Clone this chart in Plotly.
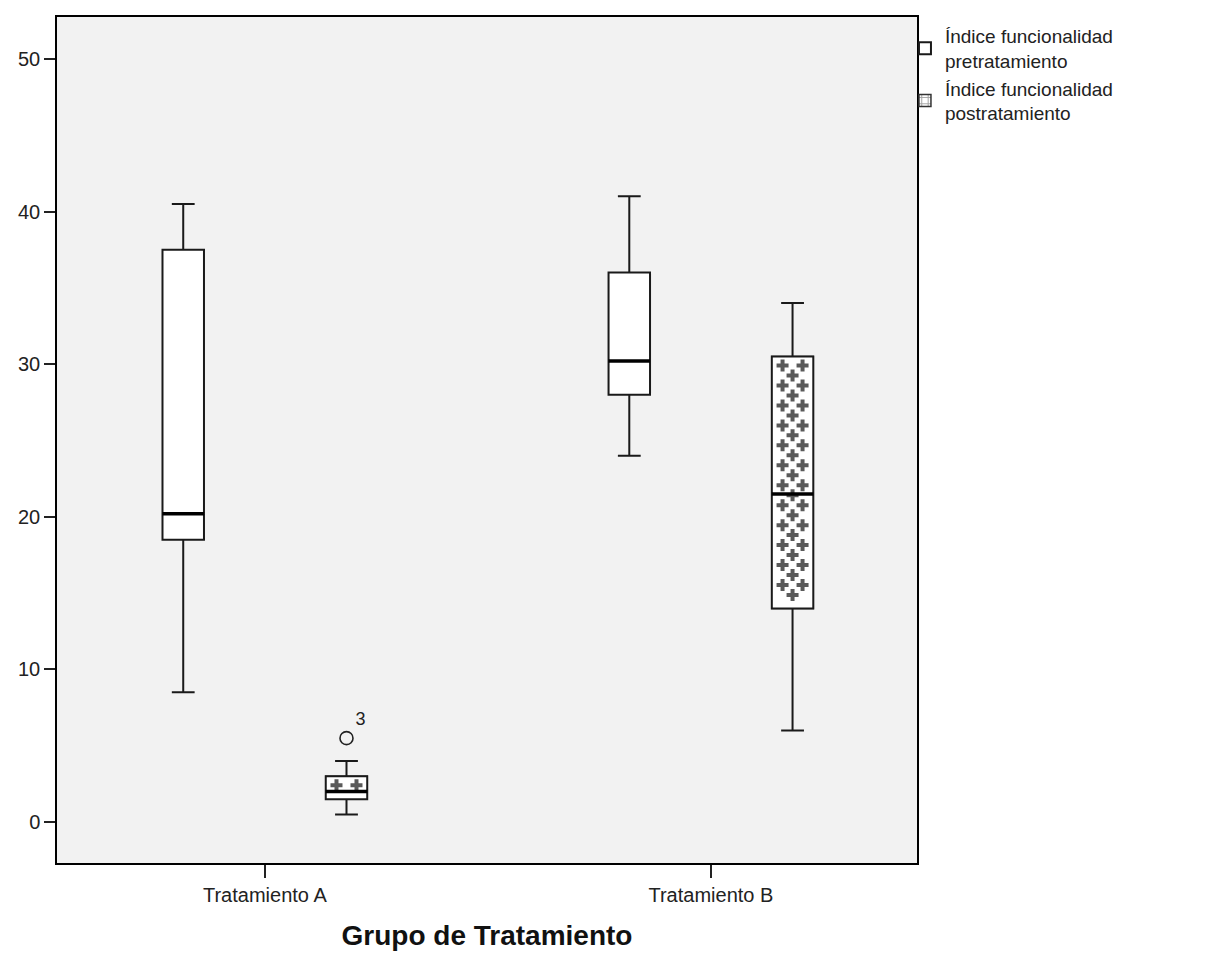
import plotly.graph_objects as go

groups = ["Tratamiento A", "Tratamiento B"]
series_names = ["Índice funcionalidad<br>pretratamiento", "Índice funcionalidad<br>postratamiento"]

pre_low = [8.5, 24.0]
pre_q1 = [18.5, 28.0]
pre_med = [20.2, 30.2]
pre_q3 = [37.5, 36.0]
pre_high = [40.5, 41.0]

post_low = [0.5, 6.0]
post_q1 = [1.5, 14.0]
post_med = [2.0, 21.5]
post_q3 = [3.0, 30.5]
post_high = [4.0, 34.0]

outlier_group = [0]
outlier_value = [5.5]
outlier_label = ["3"]

# ---- layout geometry (page body has an 8px margin) ----
W, H = 1214, 968
ML, MT, PW, PH = 49, 7, 860, 848
XR = [-0.466, 1.462]
YR = [-2.68, 52.745]
px_x = (XR[1] - XR[0]) / PW   # data units per pixel
px_y = (YR[1] - YR[0]) / PH

offset = 0.183
bw = 0.093
gx = list(range(len(groups)))
pre_x = [g - offset for g in gx]
post_x = [g + offset for g in gx]

fig = go.Figure()

# legend swatch + base for post-treatment boxes (bar layer sits beneath box layer)
fig.add_trace(go.Bar(
    x=post_x, y=[q3 - q1 for q1, q3 in zip(post_q1, post_q3)], base=post_q1,
    width=bw, name=series_names[1], showlegend=True,
    marker=dict(color="white", line=dict(color="#333", width=1.5),
                pattern=dict(shape="+", fgcolor="#444", bgcolor="white", size=8, solidity=0.3)),
    hoverinfo="skip", legendrank=2,
))

fig.add_trace(go.Box(
    x=pre_x, q1=pre_q1, median=pre_med, q3=pre_q3,
    lowerfence=pre_low, upperfence=pre_high,
    width=bw, whiskerwidth=0.55, name=series_names[0], showlegend=True,
    fillcolor="white", line=dict(color="#1a1a1a", width=2), boxpoints=False,
    legendrank=1,
))
fig.add_trace(go.Box(
    x=post_x, q1=post_q1, median=post_med, q3=post_q3,
    lowerfence=post_low, upperfence=post_high,
    width=bw, whiskerwidth=0.55, name=series_names[1], showlegend=False,
    fillcolor="white", line=dict(color="#1a1a1a", width=2), boxpoints=False,
))

# plus-sign fill pattern inside the post-treatment boxes
sx, sy = [], []
for x, q1, q3 in zip(post_x, post_q1, post_q3):
    row = 0
    yv = q3 - 9 * px_y
    while yv > q1 + 4 * px_y:
        cols = [-10, 10] if row % 2 == 0 else [0]
        for c in cols:
            sx.append(x + c * px_x)
            sy.append(yv)
        row += 1
        yv -= 10 * px_y
fig.add_trace(go.Scatter(
    x=sx, y=sy, mode="markers",
    marker=dict(symbol="cross", size=10, color="#5a5a5a", line=dict(width=0)),
    showlegend=False, hoverinfo="skip",
))

# thick median lines
mx, my = [], []
for xs, meds in ((pre_x, pre_med), (post_x, post_med)):
    for x, m in zip(xs, meds):
        mx += [x - bw / 2, x + bw / 2, None]
        my += [m, m, None]
fig.add_trace(go.Scatter(x=mx, y=my, mode="lines", line=dict(color="black", width=3.5),
                         showlegend=False, hoverinfo="skip"))

fig.add_trace(go.Scatter(
    x=[post_x[g] for g in outlier_group], y=outlier_value, mode="markers+text",
    text=outlier_label, textposition="top right",
    textfont=dict(family="Liberation Sans, Arial", size=18, color="#222"),
    marker=dict(symbol="circle-open", size=13, color="#222", line=dict(width=1.6)),
    showlegend=False, hoverinfo="skip",
))

fig.update_layout(
    width=W, height=H,
    paper_bgcolor="white", plot_bgcolor="#f2f2f2",
    margin=dict(l=ML, r=W - ML - PW, t=MT, b=H - MT - PH, pad=0),
    font=dict(family="Liberation Sans, Arial", size=20, color="#222"),
    showlegend=True,
    legend=dict(x=0.986, xanchor="left", y=1.0, yanchor="top", bgcolor="rgba(0,0,0,0)",
                font=dict(size=19), tracegroupgap=0, itemwidth=30),
    barmode="overlay",
)
fig.update_xaxes(
    range=XR, tickvals=gx, ticktext=groups,
    showline=True, linecolor="black", linewidth=1.5, mirror=True,
    ticks="outside", ticklen=13, tickcolor="#222", tickwidth=1.5,
    showgrid=False, zeroline=False, tickfont=dict(size=20),
    title=dict(text="<b>Grupo de Tratamiento</b>", font=dict(size=28, color="#111"), standoff=21),
)
fig.update_yaxes(
    range=YR, tickvals=[0, 10, 20, 30, 40, 50],
    showline=True, linecolor="black", linewidth=1.5, mirror=True,
    ticks="outside", ticklen=11, tickcolor="#222", tickwidth=1.5,
    showgrid=False, zeroline=False, tickfont=dict(size=20),
)

fig.write_html("out.html")
